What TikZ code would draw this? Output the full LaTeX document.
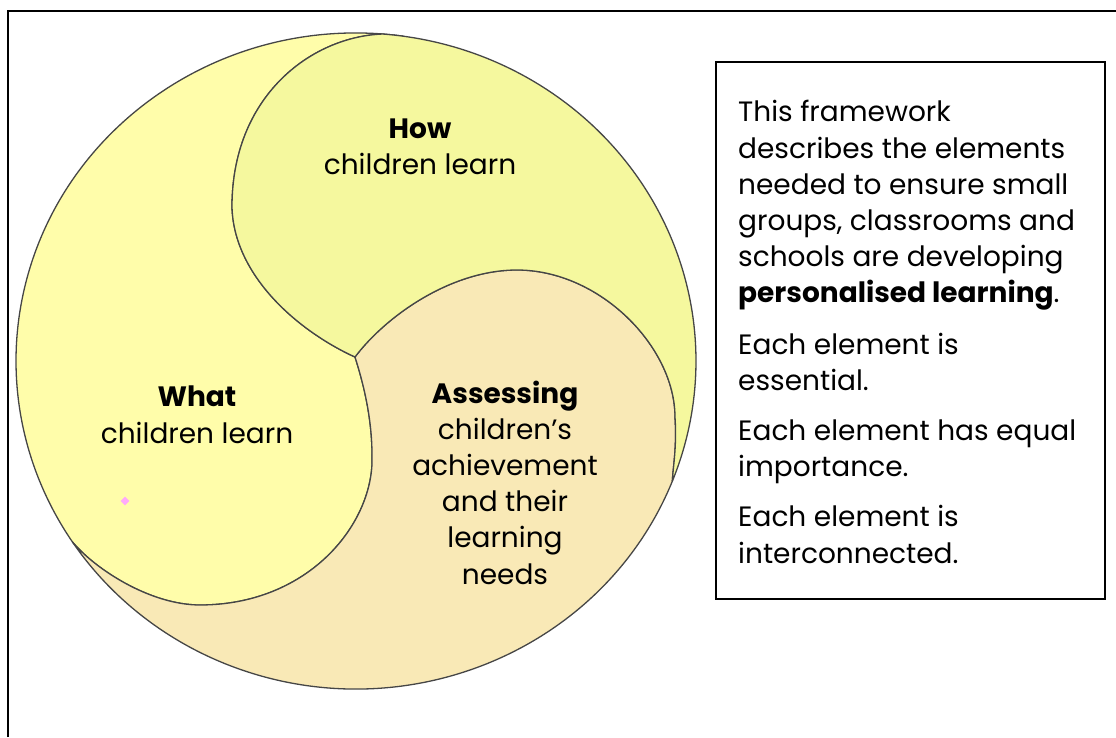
\documentclass[tikz,border=0pt]{standalone}
\usepackage{fontspec}
\setmainfont{Poppins}
\usetikzlibrary{shapes.geometric}
\definecolor{whatfill}{RGB}{255,253,170}
\definecolor{howfill}{RGB}{245,248,158}
\definecolor{assessfill}{RGB}{249,233,182}
\definecolor{edgegrey}{RGB}{70,70,70}
\definecolor{dotpink}{RGB}{255,170,250}
\begin{document}
\begin{tikzpicture}[x=1pt,y=1pt,
  region/.style={draw=edgegrey, line width=1.3pt, line join=round},
  lbl/.style={font=\fontsize{28}{36.2}\selectfont, align=center, anchor=base, inner sep=0pt},
  bodytext/.style={font=\fontsize{28}{36.2}\selectfont, align=left, anchor=base west, inner sep=0pt},
  frameline/.style={draw=black, line width=1.5pt}]
\useasboundingbox (0,0) rectangle (1116,737);

% outer ellipse centre and the points where the inner boundaries meet it
\coordinate (C) at (356,376);
\coordinate (J) at (355,380);
\path (C) ++(82:340 and 328) coordinate (wt);
\path (C) ++(85.5:340 and 328) coordinate (ht);
\path (C) ++(213.5:340 and 328) coordinate (wl);
\path (C) ++(-21.5:340 and 328) coordinate (ae);

% page frame
\draw[frameline] (8,0) -- (8,726) -- (1116,726);

% What children learn
\draw[region, fill=whatfill] (wt)
  arc[start angle=82, end angle=213.5, x radius=340, y radius=328]
  .. controls (95,168) and (150,132) .. (200,132)
  .. controls (310,132) and (375,215) .. (372,282)
  .. controls (372,320) and (363,355) .. (J)
  .. controls (300,405) and (234,460) .. (232,530)
  .. controls (232,640) and (310,700) .. (ht) -- cycle;

% Assessing
\draw[region, fill=assessfill] (J)
  .. controls (385,420) and (450,467) .. (517,467)
  .. controls (600,467) and (675,390) .. (675,320)
  .. controls (677,290) and (673,270) .. (ae)
  arc[start angle=-21.5, end angle=-146.5, x radius=340, y radius=328]
  .. controls (95,168) and (150,132) .. (200,132)
  .. controls (310,132) and (375,215) .. (372,282)
  .. controls (372,320) and (363,355) .. (J) -- cycle;

% How children learn
\draw[region, fill=howfill] (J)
  .. controls (300,405) and (234,460) .. (232,530)
  .. controls (232,640) and (310,700) .. (ht)
  arc[start angle=85.5, end angle=-21.5, x radius=340, y radius=328]
  .. controls (673,270) and (677,290) .. (675,320)
  .. controls (675,390) and (600,467) .. (517,467)
  .. controls (450,467) and (385,420) .. (J) -- cycle;

% small pink marker
\node[diamond, fill=dotpink, minimum width=9pt, minimum height=9pt, inner sep=0pt] (dot) at (125,236) {};

% labels inside the circle (anchored on the baseline of their last line)
\node[lbl] (how) at (420,562) {\textbf{How}\\children learn};
\node[lbl] (what) at (197,294) {\textbf{What}\\children learn};
\node[lbl] (assess) at (505,153) {\textbf{Assessing}\\children’s\\achievement\\and their\\learning\\needs};

% explanatory panel
\draw[frameline] (716,138) rectangle (1105,675);
\node[bodytext] (intro) at (738,174) {This framework\\describes the elements\\needed to ensure small\\groups, classrooms and\\schools are developing\\\textbf{personalised learning}.\\[15pt]Each element is\\essential.\\[14pt]Each element has equal\\importance.\\[14pt]Each element is\\interconnected.};
\end{tikzpicture}
\end{document}
